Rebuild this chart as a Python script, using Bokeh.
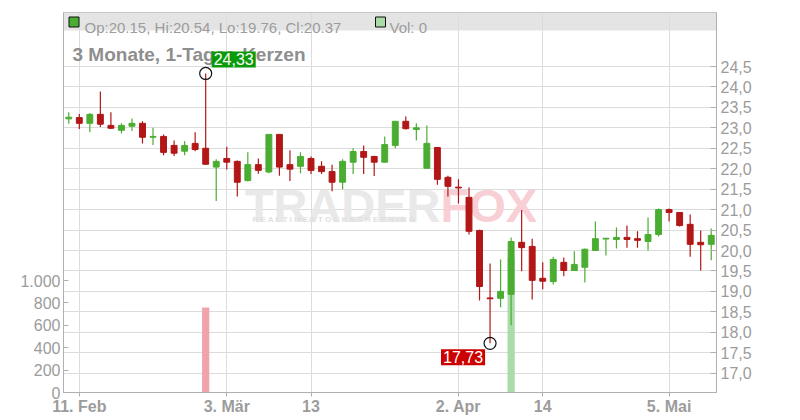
import numpy as np
from bokeh.plotting import figure
from bokeh.models import (Range1d, LinearAxis, FixedTicker, CustomJSTickFormatter,
                          Label, BoxAnnotation, ColumnDataSource)
from bokeh.embed import file_html
from bokeh.resources import INLINE

# ---------------- data ----------------
dates = ["10.02", "11.02", "12.02", "13.02", "14.02", "17.02", "18.02", "19.02", "20.02", "21.02",
         "24.02", "25.02", "26.02", "27.02", "28.02", "03.03", "04.03", "05.03", "06.03", "07.03",
         "10.03", "11.03", "12.03", "13.03", "14.03", "17.03", "18.03", "19.03", "20.03", "21.03",
         "24.03", "25.03", "26.03", "27.03", "28.03", "31.03", "01.04", "02.04", "03.04", "04.04",
         "07.04", "08.04", "09.04", "10.04", "11.04", "14.04", "15.04", "16.04", "17.04", "22.04",
         "23.04", "24.04", "25.04", "28.04", "29.04", "30.04", "02.05", "05.05", "06.05", "07.05",
         "08.05", "09.05"]
opens = [23.22, 23.25, 23.11, 23.33, 23.06, 22.94, 23.04, 23.11, 22.77, 22.79,
         22.57, 22.43, 22.62, 22.50, 22.04, 22.25, 22.18, 21.71, 22.10, 21.92,
         22.84, 22.10, 22.06, 22.25, 22.06, 21.93, 21.67, 22.16, 22.42, 22.30,
         22.16, 22.57, 23.16, 22.96, 22.01, 22.52, 21.79, 21.55, 21.30, 20.49,
         18.84, 18.83, 18.93, 20.20, 20.10, 19.32, 19.24, 19.71, 19.51, 19.59,
         20.00, 20.28, 20.27, 20.32, 20.29, 20.22, 20.39, 21.00, 20.93, 20.64,
         20.20, 20.15]
highs = [23.38, 23.34, 23.36, 23.89, 23.38, 23.11, 23.23, 23.16, 23.00, 22.84,
         22.69, 22.67, 22.89, 24.33, 22.23, 22.54, 22.20, 22.40, 22.25, 22.84,
         22.84, 22.45, 22.40, 22.30, 22.18, 22.10, 22.23, 22.50, 22.57, 22.32,
         22.79, 23.16, 23.28, 23.11, 23.06, 22.52, 21.83, 21.74, 21.54, 20.51,
         19.68, 19.78, 20.32, 20.99, 20.29, 19.71, 19.85, 19.83, 19.98, 20.05,
         20.71, 20.30, 20.56, 20.61, 20.47, 20.81, 21.03, 21.03, 20.93, 20.88,
         20.49, 20.54]
lows = [23.10, 22.97, 22.89, 23.02, 22.97, 22.86, 22.92, 22.62, 22.58, 22.33,
        22.31, 22.33, 22.43, 22.09, 21.21, 21.98, 21.32, 21.69, 21.88, 21.89,
        21.83, 21.70, 21.89, 21.87, 21.87, 21.45, 21.50, 21.87, 21.87, 21.82,
        22.16, 22.50, 22.96, 22.69, 22.01, 21.61, 21.32, 21.15, 20.39, 18.78,
        17.73, 18.61, 18.17, 19.49, 18.80, 19.05, 19.17, 19.37, 19.51, 19.22,
        20.00, 19.88, 20.05, 20.07, 20.07, 20.00, 20.34, 20.71, 20.59, 19.85,
        19.51, 19.76]
closes = [23.26, 23.11, 23.33, 23.09, 22.99, 23.06, 23.11, 22.77, 22.79, 22.40,
          22.38, 22.57, 22.47, 22.11, 22.18, 22.16, 21.67, 22.10, 21.96, 22.84,
          22.04, 21.99, 22.30, 21.96, 21.93, 21.67, 22.18, 22.42, 22.28, 22.16,
          22.59, 23.16, 22.98, 23.00, 22.62, 21.74, 21.57, 21.53, 20.47, 19.12,
          18.82, 19.00, 20.22, 20.07, 19.27, 19.25, 19.78, 19.51, 19.66, 20.03,
          20.29, 20.30, 20.32, 20.27, 20.25, 20.39, 21.00, 20.93, 20.61, 20.15,
          20.14, 20.37]
volumes = [0, 0, 0, 0, 0, 0, 0, 0, 0, 0,
           0, 0, 0, 760, 0, 0, 0, 0, 0, 0,
           0, 0, 0, 0, 0, 0, 0, 0, 0, 0,
           0, 0, 0, 0, 0, 0, 0, 0, 0, 0,
           0, 0, 1200, 0, 0, 0, 0, 0, 0, 0,
           0, 0, 0, 0, 0, 0, 0, 0, 0, 0,
           0, 0]

x_tick_idx = [1, 15, 23, 37, 45, 57]
x_tick_labels = ["11. Feb", "3. Mär", "13", "2. Apr", "14", "5. Mai"]
price_ticks = [17.0, 17.5, 18.0, 18.5, 19.0, 19.5, 20.0, 20.5, 21.0, 21.5, 22.0, 22.5, 23.0, 23.5, 24.0, 24.5]
vol_ticks = [0, 200, 400, 600, 800, 1000]

title_text = "3 Monate, 1-Tages-Kerzen"

# ---------------- styling constants ----------------
GREEN = "#4aad32"
RED = "#b21616"
VGREEN = "#a9dca6"
VRED = "#f0a3ab"
GRAY = "#9c9c9c"
GRID = "#dcdcdc"

# page pixel -> data helpers (frame: x 63..716, y 12..392 on the page)
Y_TOP, Y_BOT = 25.821, 16.527
PX_PER_UNIT = 380 / (Y_TOP - Y_BOT)
X_STEP = 653 / 62.0


def xd(px):
    return (px - 63) / X_STEP - 0.5


def yd(py):
    return Y_TOP - (py - 12) / PX_PER_UNIT


VOL_END = 380 / 112.0 * 1000

p = figure(width=800, height=420, x_range=Range1d(-0.5, 61.5), y_range=Range1d(Y_BOT, Y_TOP),
           output_backend="svg", toolbar_location=None, title=None,
           y_axis_location="right",
           min_border_left=63, min_border_right=84, min_border_top=12, min_border_bottom=28)
p.extra_y_ranges = {"vol": Range1d(0, VOL_END)}
p.background_fill_color = "white"
p.border_fill_color = "white"
p.outline_line_color = "#bdbdbd"
p.outline_line_width = 1

# header band
p.add_layout(BoxAnnotation(bottom=yd(30), fill_color="#e4e4e4", fill_alpha=1.0,
                           line_color=None, level="image"))

# axes
label_map = {str(t): lab for t, lab in zip(x_tick_idx, x_tick_labels)}
xa = p.xaxis[0]
xa.ticker = FixedTicker(ticks=x_tick_idx)
xa.formatter = CustomJSTickFormatter(args=dict(m=label_map),
                                     code="const k = String(Math.round(tick)); return (k in m) ? m[k] : '';")
xa.axis_line_color = "#b0b0b0"
xa.major_tick_line_color = "#b0b0b0"
xa.major_tick_in = 0
xa.major_tick_out = 4
xa.minor_tick_line_color = None
xa.major_label_standoff = 1
xa.major_label_text_font = "Liberation Sans"
xa.major_label_text_font_style = "bold"
xa.major_label_text_font_size = "16px"
xa.major_label_text_color = GRAY

ya = p.yaxis[0]
ya.ticker = FixedTicker(ticks=price_ticks)
ya.formatter = CustomJSTickFormatter(code="return tick.toFixed(1).replace('.', ',');")
ya.axis_line_color = "#b0b0b0"
ya.major_tick_line_color = "#b0b0b0"
ya.major_tick_in = 6
ya.major_tick_out = 0
ya.minor_tick_line_color = None
ya.major_label_standoff = 4
ya.major_label_text_font = "Liberation Sans"
ya.major_label_text_font_size = "16px"
ya.major_label_text_color = GRAY

va = LinearAxis(y_range_name="vol", ticker=FixedTicker(ticks=vol_ticks),
                formatter=CustomJSTickFormatter(
                    code="return String(tick).replace(/\\B(?=(\\d{3})+(?!\\d))/g, '.');"))
va.axis_line_color = "#b0b0b0"
va.major_tick_line_color = "#b0b0b0"
va.major_tick_in = 5
va.major_tick_out = 0
va.minor_tick_line_color = None
va.major_label_standoff = 3
va.major_label_text_font = "Liberation Sans"
va.major_label_text_font_size = "16px"
va.major_label_text_color = GRAY
p.add_layout(va, "left")

p.xgrid.grid_line_color = GRID
p.ygrid.grid_line_color = GRID
p.xgrid.ticker = FixedTicker(ticks=x_tick_idx)
p.ygrid.ticker = FixedTicker(ticks=price_ticks)

# watermark
for txt, px, align, col in [("TRADER", 440, "right", "#e9e9e9"), ("FOX", 440, "left", "#f8cfd4")]:
    p.add_layout(Label(x=xd(px), y=yd(205), text=txt, text_align=align, text_baseline="alphabetic",
                       text_font="Liberation Sans", text_font_style="bold", text_font_size="47px",
                       text_color=col, level="underlay"))
p.add_layout(Label(x=xd(252), y=yd(223), text="R E A L T I M E   S T O C K   S C R E E N I N G",
                   text_font="Liberation Sans", text_font_style="bold", text_font_size="8px",
                   text_color="#e0e0e0", level="underlay"))

# chart title (drawn before the extreme labels so they overlap it)
p.add_layout(Label(x=xd(72), y=yd(54), text=title_text, text_baseline="alphabetic",
                   text_font="Liberation Sans", text_font_style="bold", text_font_size="19px",
                   text_color="#8e8e8e"))

# data source
idx = np.arange(len(opens))
o = np.array(opens)
c = np.array(closes)
up = c >= o
src = ColumnDataSource(dict(
    x=idx, open=o, close=c, high=highs, low=lows, vol=volumes,
    top=np.maximum(o, c), bottom=np.minimum(o, c),
    color=[GREEN if u else RED for u in up],
    vcolor=[VGREEN if u else VRED for u in up],
))

# volume bars
p.vbar(x="x", top="vol", bottom=0, width=0.68, fill_color="vcolor", line_color=None,
       source=src, y_range_name="vol")

# candles
p.segment(x0="x", y0="low", x1="x", y1="high", line_color="color", line_width=1.2, source=src)
p.vbar(x="x", top="top", bottom="bottom", width=0.56, fill_color="color", line_color="color",
       line_width=1, source=src)

# extreme markers
imax = int(np.argmax(highs))
imin = int(np.argmin(lows))
p.scatter(x=[imax, imin], y=[highs[imax], lows[imin]], marker="circle", size=12,
          fill_color=None, line_color="#111111", line_width=1.2)
p.add_layout(Label(x=imax, y=highs[imax], text=f"{highs[imax]:.2f}".replace(".", ","),
                   x_offset=6, y_offset=14, text_align="left", text_baseline="middle",
                   text_font="Liberation Sans", text_font_size="16px", text_color="white",
                   background_fill_color="#0a9a0a", background_fill_alpha=1.0, padding=2))
p.add_layout(Label(x=imin, y=lows[imin], text=f"{lows[imin]:.2f}".replace(".", ","),
                   x_offset=-5, y_offset=-14, text_align="right", text_baseline="middle",
                   text_font="Liberation Sans", text_font_size="16px", text_color="white",
                   background_fill_color="#cc0000", background_fill_alpha=1.0, padding=2))

# header legend
p.scatter(x=[xd(73.5), xd(380)], y=[yd(21.5), yd(21.5)], marker="square", size=10,
          fill_color=[GREEN, VGREEN], line_color="#111111", line_width=1)
p.add_layout(Label(x=xd(84), y=yd(27), text_baseline="alphabetic",
                   text=f"Op:{opens[-1]:.2f}, Hi:{highs[-1]:.2f}, Lo:{lows[-1]:.2f}, Cl:{closes[-1]:.2f}",
                   text_font="Liberation Sans", text_font_size="15px", text_color=GRAY))
p.add_layout(Label(x=xd(389), y=yd(27), text_baseline="alphabetic", text=f"Vol: {volumes[-1]}",
                   text_font="Liberation Sans", text_font_size="15px", text_color=GRAY))

open("out.html", "w").write(file_html(p, INLINE))
